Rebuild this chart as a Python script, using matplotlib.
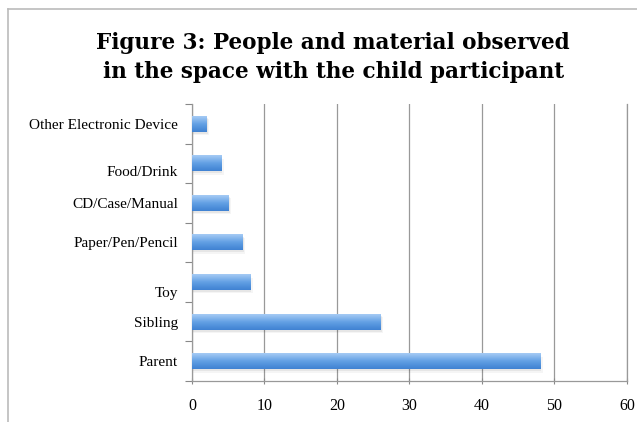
import matplotlib
matplotlib.use('Agg')
import matplotlib.pyplot as plt
import matplotlib.transforms as mtransforms
from matplotlib.lines import Line2D
import numpy as np

# observations per category (bottom to top)
categories = ['Parent', 'Sibling', 'Toy', 'Paper/Pen/Pencil', 'CD/Case/Manual',
              'Food/Drink', 'Other Electronic Device']
counts = [48, 26, 8, 7, 5, 4, 2]
x_ticks = [0, 10, 20, 30, 40, 50, 60]
# small vertical nudges for some category labels (points)
label_nudge = [0, 0, -7.5, 0, 0, -5.5, 0]

title = 'Figure 3: People and material observed\nin the space with the child participant'

plt.rcParams['font.family'] = ['Liberation Serif', 'DejaVu Serif']

fig = plt.figure(figsize=(6.37, 4.22), dpi=100)
ax = fig.add_axes([0.3014, 0.0972, 0.6829, 0.6564])

y = np.arange(len(categories))
bar_h = 0.4
bars = ax.barh(y, counts, height=bar_h, color='none', edgecolor='none', zorder=3)

# blue vertical gradient inside each bar, plus a soft drop shadow
grad = np.linspace(0, 1, 64).reshape(-1, 1)
cmap = matplotlib.colors.LinearSegmentedColormap.from_list(
    'bar', ['#3f82d2', '#62a0e4', '#a6cbf5'])
for b in bars:
    x0, y0 = b.get_x(), b.get_y()
    w, h = b.get_width(), b.get_height()
    for k, a in [(0.35, 0.04), (0.2, 0.06)]:
        sh = plt.Rectangle((x0, y0 - k * 0.25), w + k, h, color='#000000', alpha=a,
                           lw=0, zorder=2)
        ax.add_patch(sh)
    ax.imshow(grad, cmap=cmap, aspect='auto', extent=(x0, x0 + w, y0, y0 + h),
              origin='lower', zorder=3, interpolation='bicubic')

ax.set_xlim(0, 60)
ax.set_ylim(-0.5, len(categories) - 0.5)
ax.set_xticks(x_ticks)
ax.set_xticklabels([str(t) for t in x_ticks], fontsize=11.5)

# ticks between categories, labels at bar centres
ax.set_yticks(np.arange(len(categories) + 1) - 0.5)
ax.set_yticklabels([])
ax.set_yticks(y, minor=True)
ax.set_yticklabels(categories, minor=True, fontsize=11)
ax.tick_params(axis='y', which='minor', length=0, pad=10)
ax.tick_params(axis='y', which='major', length=5, direction='out', color='#888888')
ax.tick_params(axis='x', length=5, direction='inout', color='#888888', pad=10)
for lab, dy in zip(ax.get_yticklabels(minor=True), label_nudge):
    lab.set_transform(lab.get_transform() +
                      mtransforms.ScaledTranslation(0, dy / 72, fig.dpi_scale_trans))

ax.grid(axis='x', color='#999999', lw=0.9, zorder=1)
ax.set_axisbelow(True)
ax.spines['top'].set_visible(False)
for s in ['left', 'bottom', 'right']:
    ax.spines[s].set_color('#999999')
    ax.spines[s].set_linewidth(0.9)

fig.text(0.523, 0.864, title, ha='center', va='center', fontsize=15.5,
         fontweight='bold', linespacing=1.45, family='DejaVu Serif')

# chart area border
fig.add_artist(Line2D([8 / 637, 1], [1 - 9 / 422] * 2, transform=fig.transFigure,
                      color='#bbbbbb', lw=1.2))
fig.add_artist(Line2D([8 / 637] * 2, [0, 1 - 9 / 422], transform=fig.transFigure,
                      color='#bbbbbb', lw=1.2))

fig.savefig('out.png', dpi=100)
